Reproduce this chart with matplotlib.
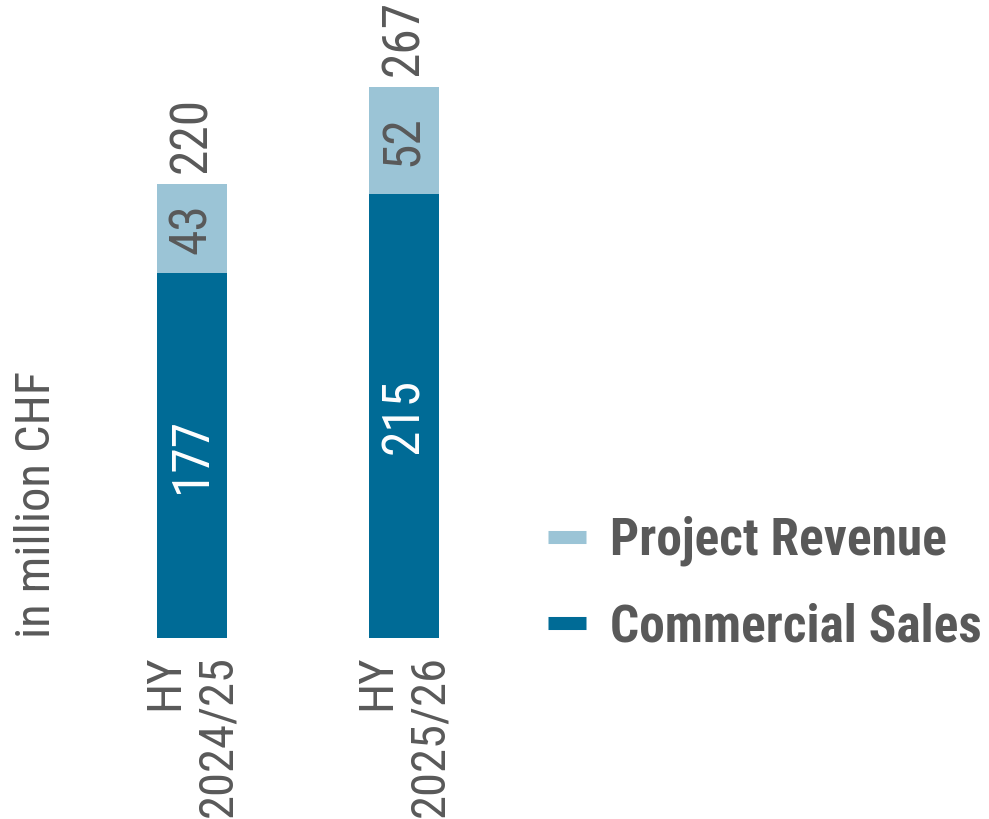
import matplotlib.pyplot as plt
from matplotlib.lines import Line2D

periods = ['HY\n2024/25', 'HY\n2025/26']
commercial_sales = [177, 215]
project_revenue = [43, 52]
totals = [220, 267]

font = 'Roboto Condensed'
dark = '#006B96'
light = '#9BC4D6'
grey = '#595959'

fig = plt.figure(figsize=(9.89, 8.19), dpi=100)
ax = fig.add_axes([100 / 989, 181 / 819, 400 / 989, 628 / 819])

x = [0, 1]
ax.bar(x, commercial_sales, width=0.33, color=dark)
ax.bar(x, project_revenue, width=0.33, bottom=commercial_sales, color=light)

for i in x:
    ax.text(i, commercial_sales[i] / 2, str(commercial_sales[i]), rotation=90,
            ha='center', va='center', color='white', fontsize=37, family=font)
    ax.text(i, commercial_sales[i] + project_revenue[i] / 2, str(project_revenue[i]),
            rotation=90, ha='center', va='center', color=grey, fontsize=37, family=font)
    ax.text(i, totals[i] + 5.5, str(totals[i]), rotation=90, ha='center', va='bottom',
            color=grey, fontsize=37, family=font)

ax.set_xlim(-0.434, 1.453)
ax.set_ylim(0, 304.3)
ax.set_xticks(x)
ax.set_xticklabels(periods, rotation=90, multialignment='right', va='top',
                   color=grey, fontsize=35, family=font)
ax.tick_params(length=0, pad=12)
ax.set_yticks([])
for s in ax.spines.values():
    s.set_visible(False)

fig.text(37 / 989, 181 / 819, 'in million CHF', rotation=90, ha='center', va='bottom',
         color=grey, fontsize=35, family=font)

# thick short lines as legend keys (flat bars like the original)
handles = [Line2D([0], [0], color=light, lw=9.4, solid_capstyle='butt'),
           Line2D([0], [0], color=dark, lw=9.4, solid_capstyle='butt')]
leg = fig.legend(handles, ['Project Revenue', 'Commercial Sales'],
                 loc='center left', bbox_to_anchor=(548 / 989, 1 - 584 / 819),
                 frameon=False, borderpad=0, borderaxespad=0,
                 handlelength=0.74, handletextpad=0.47,
                 labelspacing=0.7, prop={'family': font, 'weight': 'bold', 'size': 37})
for t in leg.get_texts():
    t.set_color(grey)

fig.savefig('out.png', dpi=100)
